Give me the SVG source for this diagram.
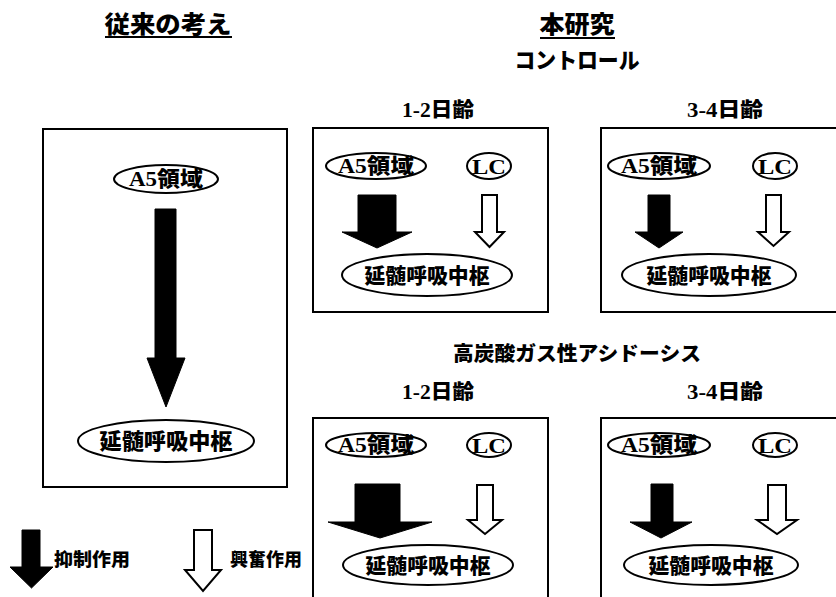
<svg xmlns="http://www.w3.org/2000/svg" width="836" height="597" viewBox="0 0 836 597">
<style>
.box{fill:#fff;stroke:#000;stroke-width:2}
.el{fill:#fff;stroke:#000;stroke-width:2}
.t{font-family:"Liberation Serif","Noto Sans CJK JP",serif;font-weight:bold;fill:#000;text-anchor:middle}
.j{font-family:"Noto Sans CJK JP","Noto Sans CJK SC",sans-serif;font-weight:900;fill:#000;text-anchor:middle}
.blk{fill:#000;stroke:#000;stroke-width:1}
.wht{fill:#fff;stroke:#000;stroke-width:2;stroke-linejoin:miter}
.ul{stroke:#000;stroke-width:2}
</style>
<rect width="836" height="597" fill="#fff"/>

<g id="headings">
<text class="j" x="168" y="33" font-size="24" textLength="127" lengthAdjust="spacingAndGlyphs">従来の考え</text>
<line class="ul" x1="105" y1="37" x2="232" y2="37"/>
<text class="j" x="577" y="33" font-size="24" textLength="75" lengthAdjust="spacingAndGlyphs">本研究</text>
<line class="ul" x1="540" y1="38" x2="615" y2="38"/>
<text class="j" x="577" y="68" font-size="22" textLength="125" lengthAdjust="spacingAndGlyphs">コントロール</text>
<text class="t" x="438" y="117" font-size="20" textLength="72" lengthAdjust="spacingAndGlyphs">1-2<tspan font-family="Noto Sans CJK JP" font-weight="900">日齢</tspan></text>
<text class="t" x="725" y="117" font-size="20" textLength="76" lengthAdjust="spacingAndGlyphs">3-4<tspan font-family="Noto Sans CJK JP" font-weight="900">日齢</tspan></text>
<text class="j" x="577" y="361" font-size="20" textLength="248" lengthAdjust="spacingAndGlyphs">高炭酸ガス性アシドーシス</text>
<text class="t" x="438" y="399" font-size="20" textLength="72" lengthAdjust="spacingAndGlyphs">1-2<tspan font-family="Noto Sans CJK JP" font-weight="900">日齢</tspan></text>
<text class="t" x="725" y="399" font-size="20" textLength="76" lengthAdjust="spacingAndGlyphs">3-4<tspan font-family="Noto Sans CJK JP" font-weight="900">日齢</tspan></text>
</g>

<g id="box-conventional">
<rect class="box" x="43" y="129" width="244" height="358"/>
</g>
<g id="box-control-12">
<rect class="box" x="313" y="128" width="235" height="184"/>
</g>
<g id="box-control-34">
<rect class="box" x="601" y="128" width="260" height="184"/>
</g>
<g id="box-hyper-12">
<rect class="box" x="313" y="418" width="235" height="200"/>
</g>
<g id="box-hyper-34">
<rect class="box" x="601" y="418" width="260" height="200"/>
</g>

<g id="connectors">
<polygon class="blk" points="155,209 176,209 176,358 185,358 166,407 147,358 155,358"/>
<polygon class="blk" points="358,195 396,195 396,232 412,232 377,248 342,232 358,232"/>
<polygon class="wht" points="482,195 497,195 497,232 504,232 489.5,247 475,232 482,232"/>
<polygon class="blk" points="648,195 670,195 670,232 683,232 659,248 635,232 648,232"/>
<polygon class="wht" points="766,195 781,195 781,232 789,232 773.5,246 758,232 766,232"/>
<polygon class="blk" points="355,484 400,484 400,522 432,522 380,538 328,522 355,522"/>
<polygon class="wht" points="477,485 493,485 493,520 502,520 485,534 468,520 477,520"/>
<polygon class="blk" points="651,484 673,484 673,522 692,522 661,538 630,522 651,522"/>
<polygon class="wht" points="768,485 786,485 786,520 797,520 777,534 757,520 768,520"/>
</g>

<g id="node-conv-a5">
<ellipse class="el" cx="166" cy="179" rx="52" ry="14"/>
<text class="t" x="166" y="186" font-size="21" textLength="74" lengthAdjust="spacingAndGlyphs">A5<tspan font-family="Noto Sans CJK JP" font-weight="900">領域</tspan></text>
</g>
<g id="node-conv-medulla">
<ellipse class="el" cx="166" cy="441" rx="88" ry="21"/>
<text class="j" x="166" y="449" font-size="22" textLength="133" lengthAdjust="spacingAndGlyphs">延髄呼吸中枢</text>
</g>

<g id="node-c12-a5">
<ellipse class="el" cx="376" cy="166" rx="50" ry="13"/>
<text class="t" x="376" y="173" font-size="21" textLength="76" lengthAdjust="spacingAndGlyphs">A5<tspan font-family="Noto Sans CJK JP" font-weight="900">領域</tspan></text>
</g>
<g id="node-c12-lc">
<ellipse class="el" cx="489" cy="166" rx="22" ry="13"/>
<text class="t" x="489" y="174" font-size="22" textLength="34" lengthAdjust="spacingAndGlyphs">LC</text>
</g>
<g id="node-c12-medulla">
<ellipse class="el" cx="427" cy="275" rx="85" ry="21"/>
<text class="j" x="427" y="283" font-size="21" textLength="125" lengthAdjust="spacingAndGlyphs">延髄呼吸中枢</text>
</g>

<g id="node-c34-a5">
<ellipse class="el" cx="659" cy="166" rx="51" ry="13"/>
<text class="t" x="659" y="173" font-size="21" textLength="76" lengthAdjust="spacingAndGlyphs">A5<tspan font-family="Noto Sans CJK JP" font-weight="900">領域</tspan></text>
</g>
<g id="node-c34-lc">
<ellipse class="el" cx="775" cy="166" rx="22" ry="13"/>
<text class="t" x="775" y="174" font-size="22" textLength="34" lengthAdjust="spacingAndGlyphs">LC</text>
</g>
<g id="node-c34-medulla">
<ellipse class="el" cx="709" cy="275" rx="87" ry="21"/>
<text class="j" x="709" y="283" font-size="21" textLength="125" lengthAdjust="spacingAndGlyphs">延髄呼吸中枢</text>
</g>

<g id="node-h12-a5">
<ellipse class="el" cx="376" cy="445" rx="50" ry="12"/>
<text class="t" x="376" y="452" font-size="21" textLength="76" lengthAdjust="spacingAndGlyphs">A5<tspan font-family="Noto Sans CJK JP" font-weight="900">領域</tspan></text>
</g>
<g id="node-h12-lc">
<ellipse class="el" cx="489" cy="445" rx="22" ry="12"/>
<text class="t" x="489" y="453" font-size="22" textLength="34" lengthAdjust="spacingAndGlyphs">LC</text>
</g>
<g id="node-h12-medulla">
<ellipse class="el" cx="428" cy="565" rx="85" ry="20"/>
<text class="j" x="428" y="573" font-size="21" textLength="125" lengthAdjust="spacingAndGlyphs">延髄呼吸中枢</text>
</g>

<g id="node-h34-a5">
<ellipse class="el" cx="659" cy="445" rx="51" ry="12"/>
<text class="t" x="659" y="452" font-size="21" textLength="76" lengthAdjust="spacingAndGlyphs">A5<tspan font-family="Noto Sans CJK JP" font-weight="900">領域</tspan></text>
</g>
<g id="node-h34-lc">
<ellipse class="el" cx="775" cy="445" rx="22" ry="12"/>
<text class="t" x="775" y="453" font-size="22" textLength="34" lengthAdjust="spacingAndGlyphs">LC</text>
</g>
<g id="node-h34-medulla">
<ellipse class="el" cx="711" cy="565" rx="87" ry="20"/>
<text class="j" x="711" y="573" font-size="21" textLength="125" lengthAdjust="spacingAndGlyphs">延髄呼吸中枢</text>
</g>

<g id="legend">
<polygon class="blk" points="22,530 40,530 40,567 53,567 31.5,588 10,567 22,567"/>
<text class="j" x="92" y="566" font-size="18" textLength="76" lengthAdjust="spacingAndGlyphs">抑制作用</text>
<polygon class="wht" points="194,530 212,530 212,570 221,570 203,591 185,570 194,570"/>
<text class="j" x="266" y="566" font-size="18" textLength="72" lengthAdjust="spacingAndGlyphs">興奮作用</text>
</g>
</svg>
